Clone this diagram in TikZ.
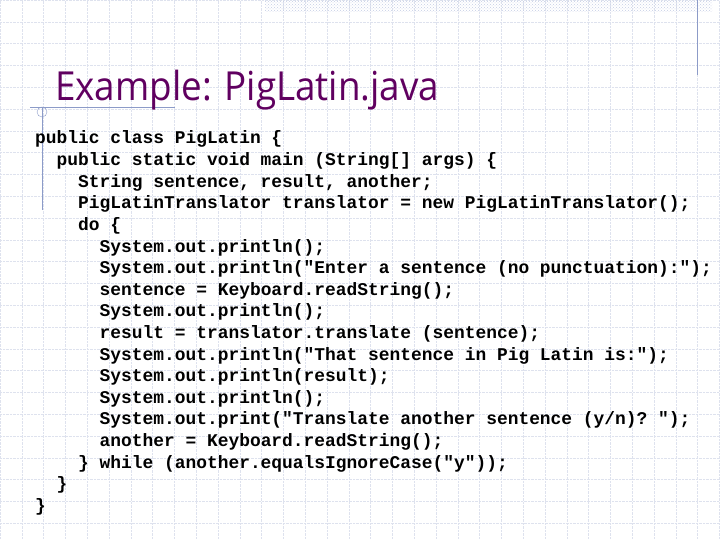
\documentclass[tikz,border=0pt]{standalone}
\usepackage{fontspec}
\setmonofont{Liberation Mono}
\newfontfamily\titlefont{Open Sans}
\usetikzlibrary{patterns}
\definecolor{gridblue}{RGB}{222,226,238}
\definecolor{lineblue}{RGB}{140,155,200}
\definecolor{titlepurple}{RGB}{96,0,96}
\tikzset{codeline/.style={anchor=base west, inner sep=0pt, font=\ttfamily\bfseries\fontsize{17.9}{18}\selectfont}}
\begin{document}
\begin{tikzpicture}[x=1pt, y=-1pt]
  \useasboundingbox (0,0) rectangle (720,540);
  % background grid
  \draw[gridblue, densely dotted, step=21.8pt] (0,0) grid (720,540);
  \fill[pattern=crosshatch dots, pattern color=lineblue!50] (265,0) rectangle (712,12);
  \draw[lineblue] (697,0) -- (697,75);
  \draw[lineblue] (30,107) -- (175,107);
  \draw[lineblue] (42,107) -- (42,210);
  \draw[lineblue] (42,112) circle (5);
  % title
  \node[anchor=base west, inner sep=0pt, text=titlepurple, font=\titlefont\fontsize{40}{42}\selectfont, xscale=0.92] (title) at (55,101) {Example: PigLatin.java};
  % code
  \foreach \txt [count=\i] in {
    {public class PigLatin \{},
    {\ \ public static void main (String[] args) \{},
    {\ \ \ \ String sentence, result, another;},
    {\ \ \ \ PigLatinTranslator translator = new PigLatinTranslator();},
    {\ \ \ \ do \{},
    {\ \ \ \ \ \ System.out.println();},
    {\ \ \ \ \ \ System.out.println("Enter a sentence (no punctuation):");},
    {\ \ \ \ \ \ sentence = Keyboard.readString();},
    {\ \ \ \ \ \ System.out.println();},
    {\ \ \ \ \ \ result = translator.translate (sentence);},
    {\ \ \ \ \ \ System.out.println("That sentence in Pig Latin is:");},
    {\ \ \ \ \ \ System.out.println(result);},
    {\ \ \ \ \ \ System.out.println();},
    {\ \ \ \ \ \ System.out.print("Translate another sentence (y/n)? ");},
    {\ \ \ \ \ \ another = Keyboard.readString();},
    {\ \ \ \ \} while (another.equalsIgnoreCase("y"));},
    {\ \ \}},
    {\}}}
    \node[codeline] (code\i) at (35,{144+21.6*(\i-1)}) {\txt};
\end{tikzpicture}
\end{document}
